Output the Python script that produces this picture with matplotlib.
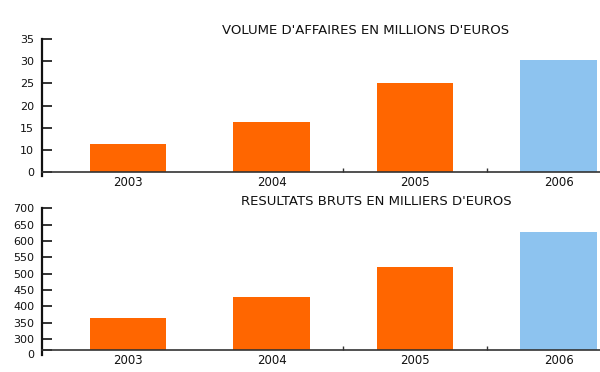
import matplotlib.pyplot as plt
import matplotlib.transforms as mtransforms
import numpy as np

years = ['2003', '2004', '2005', '2006']
volume = [11.3, 16.3, 25.2, 30.2]           # millions d'euros
resultats = [364, 430, 522, 629]            # milliers d'euros
vol_ticks = [0, 10, 15, 20, 25, 30, 35]
res_ticks = [0, 300, 350, 400, 450, 500, 550, 600, 650, 700]
colors = ['#ff6600', '#ff6600', '#ff6600', '#8dc3ef']

plt.rcParams['font.family'] = ['DejaVu Sans']


# axes "coupes" : le bas de l'echelle est comprime
def vol_fwd(v):
    v = np.asarray(v, dtype=float)
    return np.where(v < 10, v / 10, 1 + (v - 10) / 5)


def vol_inv(s):
    s = np.asarray(s, dtype=float)
    return np.where(s < 1, s * 10, 10 + (s - 1) * 5)


def res_fwd(v):
    v = np.asarray(v, dtype=float)
    return np.where(v < 300, v / 300 * 0.67, 0.67 + (v - 300) / 50)


def res_inv(s):
    s = np.asarray(s, dtype=float)
    return np.where(s < 0.67, s / 0.67 * 300, 300 + (s - 0.67) * 50)


fig = plt.figure(figsize=(6, 3.72), dpi=100)
ax1 = fig.add_axes([0.0708, 0.5277, 0.9292, 0.3667])
ax2 = fig.add_axes([0.0708, 0.0457, 0.9292, 0.3944])

x = np.arange(len(years))
setups = [
    (ax1, volume, vol_fwd, vol_inv, vol_ticks, (-1.8, 35),
     "VOLUME D'AFFAIRES EN MILLIONS D'EUROS", 0.61, 0.918),
    (ax2, resultats, res_fwd, res_inv, res_ticks, (-135, 700),
     "RESULTATS BRUTS EN MILLIERS D'EUROS", 0.627, 0.458),
]

for ax, vals, fwd, inv, ticks, ylim, title, tx, ty in setups:
    ax.set_yscale('function', functions=(fwd, inv))
    ax.bar(x, vals, width=0.53, color=colors)
    ax.set_ylim(*ylim)
    ax.set_xlim(-0.596, 3.289)
    ax.set_yticks(ticks)
    ax.set_yticklabels([str(t) for t in ticks])
    ax.yaxis.set_minor_locator(plt.NullLocator())
    ax.set_xticks(x)
    ax.set_xticklabels(years)
    ax.set_xticks([1.5, 2.5], minor=True)

    for s in ['top', 'right']:
        ax.spines[s].set_visible(False)
    ax.spines['bottom'].set_position(('data', 0))
    ax.spines['bottom'].set_color('#333333')
    ax.spines['bottom'].set_linewidth(1.2)
    ax.spines['left'].set_linewidth(1.6)
    ax.spines['left'].set_color('#111111')

    ax.tick_params(axis='y', direction='in', length=7, width=1.2,
                   pad=6, labelsize=8, colors='#111111')
    ax.tick_params(axis='x', which='major', length=0, pad=3,
                   labelsize=8.5, labelcolor='#111111')
    ax.tick_params(axis='x', which='minor', direction='in', length=3,
                   width=1, color='#333333')

    fig.text(tx, ty, title, ha='center', va='center', fontsize=9.5,
             color='#111111')

# le "0" du bas est un peu descendu, comme dans l'original
zero_lab = ax2.get_yticklabels()[0]
shift = mtransforms.ScaledTranslation(0, -3 / 72, fig.dpi_scale_trans)
zero_lab.set_transform(zero_lab.get_transform() + shift)

fig.savefig('out.png', dpi=100, facecolor='white')
